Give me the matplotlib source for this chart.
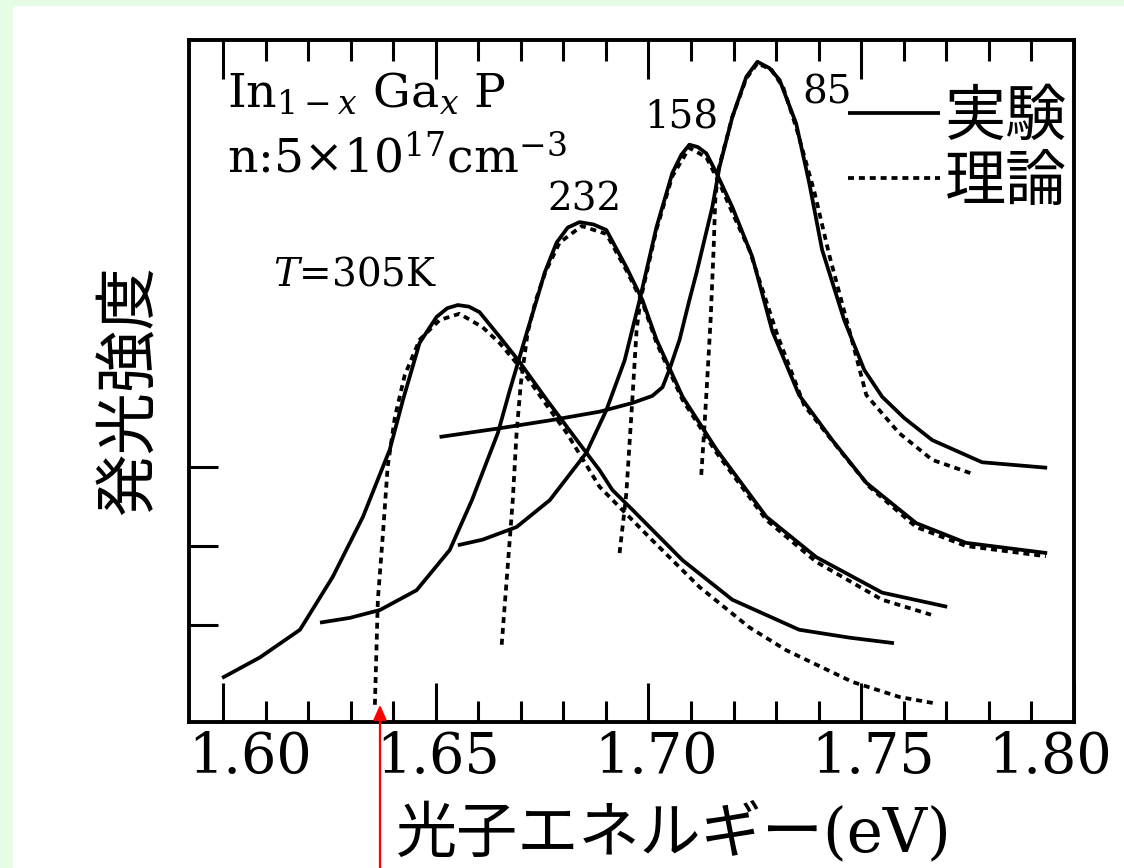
import matplotlib
matplotlib.use("Agg")
import matplotlib.pyplot as plt
from matplotlib.patches import Rectangle
from matplotlib.ticker import MultipleLocator
from matplotlib.transforms import ScaledTranslation

plt.rcParams['font.family'] = ['DejaVu Serif', 'Noto Sans CJK JP']
plt.rcParams['mathtext.fontset'] = 'dejavuserif'

# photon energy (eV) / PL intensity (arb., curves offset)
# T = 305 K
e305 = [1.5998, 1.6087, 1.6181, 1.6258, 1.6329, 1.6392, 1.6423, 1.6462, 1.6502, 1.6527,
        1.6552, 1.6578, 1.6603, 1.6650, 1.6697, 1.6761, 1.6808, 1.6854, 1.6885, 1.6915,
        1.6962, 1.7080, 1.7197, 1.7354, 1.7472, 1.7577]
i305 = [0.33, 0.59, 0.94, 1.61, 2.37, 3.22, 3.85, 4.57, 4.90, 5.01,
        5.05, 5.03, 4.96, 4.65, 4.33, 3.85, 3.51, 3.18, 2.96, 2.71,
        2.46, 1.82, 1.32, 0.94, 0.84, 0.77]
e305_th = [1.6357, 1.6364, 1.6376, 1.6387, 1.6404, 1.6427, 1.6462, 1.6509, 1.6556, 1.6610,
           1.6650, 1.6697, 1.6761, 1.6808, 1.6885, 1.7002, 1.7120, 1.7237, 1.7324, 1.7479,
           1.7589, 1.7671]
i305_th = [-0.01, 1.32, 2.16, 3.00, 3.63, 4.16, 4.61, 4.86, 4.94, 4.77,
           4.57, 4.27, 3.78, 3.43, 2.75, 2.11, 1.48, 0.97, 0.68, 0.28,
           0.09, 0.01]

# T = 232 K
e232 = [1.6228, 1.6298, 1.6369, 1.6455, 1.6533, 1.6585, 1.6646, 1.6674, 1.6714, 1.6737,
        1.6756, 1.6784, 1.6810, 1.6838, 1.6871, 1.6901, 1.6948, 1.6986, 1.7019, 1.7080,
        1.7160, 1.7277, 1.7394, 1.7549, 1.7702]
i232 = [1.03, 1.09, 1.19, 1.44, 1.95, 2.58, 3.43, 3.97, 4.70, 5.11,
        5.46, 5.84, 6.03, 6.10, 6.07, 6.00, 5.53, 5.11, 4.61, 3.89,
        3.22, 2.37, 1.86, 1.41, 1.23]
e232_th = [1.6655, 1.6669, 1.6681, 1.6690, 1.6700, 1.6716, 1.6735, 1.6758, 1.6791, 1.6843,
           1.6901, 1.6948, 1.6986, 1.7019, 1.7080, 1.7160, 1.7277, 1.7394, 1.7549, 1.7664]
i232_th = [0.75, 1.73, 2.58, 3.43, 4.06, 4.70, 5.11, 5.47, 5.84, 6.05,
           5.95, 5.49, 5.08, 4.57, 3.85, 3.18, 2.33, 1.80, 1.32, 1.13]

# T = 158 K
e158 = [1.6552, 1.6610, 1.6690, 1.6768, 1.6854, 1.6901, 1.6944, 1.6979, 1.7019, 1.7056,
        1.7077, 1.7096, 1.7116, 1.7136, 1.7160, 1.7197, 1.7244, 1.7291, 1.7354, 1.7432,
        1.7512, 1.7629, 1.7746, 1.7937]
i158 = [2.01, 2.08, 2.24, 2.58, 3.18, 3.72, 4.35, 5.11, 6.04, 6.72,
        6.95, 7.08, 7.05, 6.97, 6.72, 6.29, 5.66, 4.72, 3.91, 3.34,
        2.80, 2.29, 2.04, 1.91]
e158_th = [1.6932, 1.6941, 1.6948, 1.6962, 1.6972, 1.6981, 1.7019, 1.7056, 1.7096, 1.7136,
           1.7167, 1.7202, 1.7237, 1.7303, 1.7366, 1.7444, 1.7519, 1.7629, 1.7746, 1.7934]
i158_th = [1.91, 2.33, 2.67, 3.85, 4.73, 5.11, 6.01, 6.68, 7.04, 6.92,
           6.59, 6.16, 5.75, 4.67, 3.78, 3.25, 2.75, 2.24, 2.00, 1.87]

# T = 85 K
e85 = [1.6509, 1.6650, 1.6768, 1.6885, 1.6962, 1.7009, 1.7033, 1.7049, 1.7073, 1.7096,
       1.7113, 1.7150, 1.7167, 1.7197, 1.7230, 1.7256, 1.7284, 1.7308, 1.7347, 1.7378,
       1.7408, 1.7460, 1.7507, 1.7549, 1.7601, 1.7667, 1.7784, 1.7937]
i85 = [3.38, 3.49, 3.59, 3.70, 3.81, 3.90, 4.01, 4.23, 4.61, 5.11,
       5.46, 6.29, 6.80, 7.43, 7.94, 8.13, 8.05, 7.90, 7.35, 6.59,
       5.75, 4.86, 4.23, 3.89, 3.62, 3.34, 3.06, 2.99]
e85_th = [1.7124, 1.7131, 1.7138, 1.7146, 1.7153, 1.7157, 1.7164, 1.7197, 1.7230, 1.7256,
          1.7289, 1.7317, 1.7347, 1.7390, 1.7425, 1.7472, 1.7512, 1.7589, 1.7667, 1.7758]
i85_th = [2.90, 3.47, 4.10, 4.86, 5.75, 6.38, 6.76, 7.43, 7.92, 8.11,
          8.03, 7.80, 7.30, 6.48, 5.68, 4.73, 3.91, 3.43, 3.09, 2.92]

temp_labels = [r"$T$=305K", "232", "158", "85"]
temp_x = [1.6310, 1.6850, 1.7077, 1.7420]
temp_y = [5.43, 6.38, 7.42, 7.73]

xticks = [1.60, 1.65, 1.70, 1.75, 1.80]
xticklabels = ["1.60", "1.65", "1.70", "1.75", "1.80"]
yticks = [1, 2, 3]

fig = plt.figure(figsize=(11.24, 8.68), dpi=100)
fig.patch.set_facecolor('white')
# light green page border (top and left)
fig.add_artist(Rectangle((0, 0), 13 / 1124, 1, transform=fig.transFigure,
                         color='#e4fde4', lw=0, zorder=-5))
fig.add_artist(Rectangle((0, 1 - 6 / 868), 1, 6 / 868, transform=fig.transFigure,
                         color='#e4fde4', lw=0, zorder=-5))

ax = fig.add_axes([0.1681, 0.1682, 0.7874, 0.7857])

lw = 2.7
dash = (0, (1.6, 1.3))
sets = [(e305, i305, e305_th, i305_th), (e232, i232, e232_th, i232_th),
        (e158, i158, e158_th, i158_th), (e85, i85, e85_th, i85_th)]
for k, (ex, iy, tx, ty) in enumerate(sets):
    ax.plot(ex, iy, color='k', lw=lw, solid_joinstyle='round', solid_capstyle='butt',
            label='実験' if k == 0 else None)
    ax.plot(tx, ty, color='k', lw=lw, ls=dash, label='理論' if k == 0 else None)

for t, x, y in zip(temp_labels, temp_x, temp_y):
    ax.text(x, y, t, fontsize=28, ha='center', va='center', family='DejaVu Serif')

ax.text(0.043, 0.900, r"In$_{1-x}$ Ga$_x$ P", transform=ax.transAxes, fontsize=34,
        va='baseline', ha='left')
ax.text(0.043, 0.805, r"n:5$\times$10$^{17}$cm$^{-3}$", transform=ax.transAxes,
        fontsize=34, va='baseline', ha='left')

leg = ax.legend(loc='upper left', bbox_to_anchor=(0.745, 0.930), frameon=False,
                fontsize=44, handlelength=1.5, handletextpad=0.08, labelspacing=0.08,
                borderpad=0, borderaxespad=0)

ax.set_xlim(1.5920, 1.80)
ax.set_ylim(-0.228, 8.405)
ax.set_xticks(xticks)
ax.set_xticklabels(xticklabels)
ax.xaxis.set_minor_locator(MultipleLocator(0.01))
ax.set_yticks(yticks)
ax.set_yticklabels([])
ax.tick_params(axis='x', which='major', direction='in', length=28, width=2.2,
               top=True, bottom=True, labelsize=40, pad=6)
ax.tick_params(axis='x', which='minor', direction='in', length=15, width=2.2,
               top=True, bottom=True)
ax.tick_params(axis='y', which='major', direction='in', length=21, width=2.2,
               left=True, right=False)
for sp in ax.spines.values():
    sp.set_linewidth(2.8)

# tick labels in the print are not exactly centred on their ticks
label_shift_px = [27, 2, 8, 12, -24]
for lab, dx in zip(ax.get_xticklabels(), label_shift_px):
    lab.set_transform(lab.get_transform() + ScaledTranslation(dx / 100, 0, fig.dpi_scale_trans))

ax.set_xlabel("光子エネルギー(eV)", fontsize=44, va='center')
ax.xaxis.set_label_coords(0.548, -0.163)
ax.set_ylabel("発光強度", fontsize=45, va='center')
ax.yaxis.set_label_coords(-0.067, 0.487)

# red marker arrow pointing at the 305 K band edge
ax.annotate("", xy=(1.6369, -0.01), xycoords='data',
            xytext=(1.6369, 0.0), textcoords=('data', 'figure fraction'),
            arrowprops=dict(arrowstyle='-|>,head_length=0.9,head_width=0.4',
                            color='#ff0000', lw=1.6, shrinkA=0, shrinkB=0),
            annotation_clip=False)

fig.savefig("out.png", dpi=100, facecolor=fig.get_facecolor())
